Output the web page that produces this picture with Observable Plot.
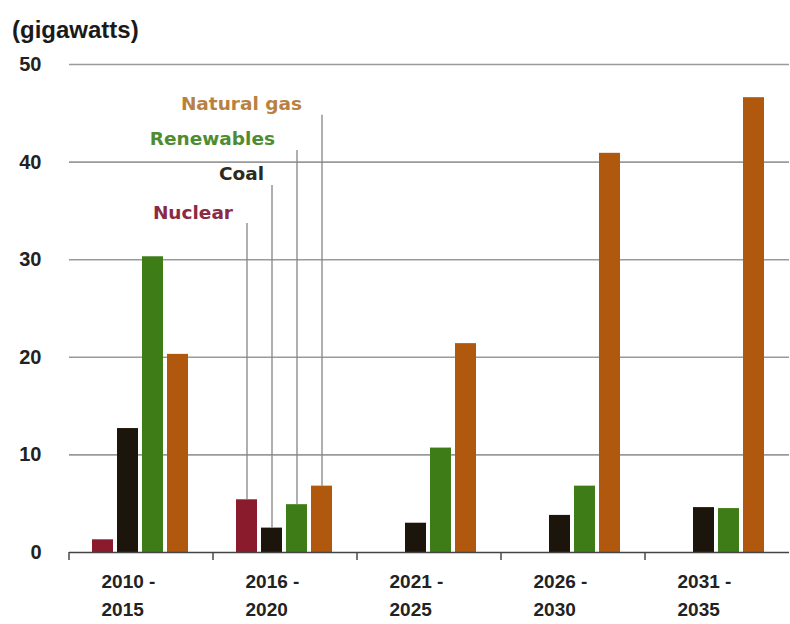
<!DOCTYPE html>
<html><head><meta charset="utf-8">
<script src="https://cdn.jsdelivr.net/npm/d3@7"></script>
<script src="https://cdn.jsdelivr.net/npm/@observablehq/plot@0.6"></script>
<style>
body{margin:0;background:#fff;font-family:"Liberation Sans",Arial,sans-serif;}
#unit{height:44px;position:relative;width:790px;}
#unit span{position:absolute;left:12px;top:18px;font-size:24px;font-weight:bold;color:#1a1a1a;line-height:1;}
#chart svg{display:block;overflow:visible;}
</style></head>
<body>
<div id="unit"><span>(gigawatts)</span></div>
<div id="chart"></div>
<script>
// ---- data ----
const periods = ["2010 - 2015", "2016 - 2020", "2021 - 2025", "2026 - 2030", "2031 - 2035"];
const sources = ["Nuclear", "Coal", "Renewables", "Natural gas"];
const nuclear    = [1.3, 5.4, 0, 0, 0];
const coal       = [12.7, 2.5, 3.0, 3.8, 4.6];
const renewables = [30.3, 4.9, 10.7, 6.8, 4.5];
const naturalGas = [20.3, 6.8, 21.4, 40.9, 46.6];
const yTicks = [0, 10, 20, 30, 40, 50];
// legend leader lines (drawn in the 2016-2020 group), top end in gigawatts
const labelPeriod = "2016 - 2020";
const leaderTop = [33.7, 37.6, 41.2, 44.8];

// ---- styles ----
const barColors = ["#8a1b2c", "#1c150b", "#3e7c17", "#b0580e"];
const labelColors = ["#8c2a45", "#2a2a1e", "#4e8c32", "#b9813f"];
const labelDx = [-15, -9, -23, -21];

const seriesValues = [nuclear, coal, renewables, naturalGas];
const rows = [];
periods.forEach((p, i) => sources.forEach((s, j) => rows.push({period: p, source: s, value: seriesValues[j][i]})));
const ann = sources.map((s, j) => ({period: labelPeriod, source: s, value: seriesValues[j][periods.indexOf(labelPeriod)], top: leaderTop[j]}));

function edgeTicks(index, scales, values, dimensions) {
  const x0 = d3.min(scales.x.range());
  const y0 = scales.y(0);
  const g = d3.create("svg:g");
  g.append("line").attr("x1", x0).attr("x2", x0).attr("y1", y0).attr("y2", y0 + 8)
    .attr("stroke", "#4a4a4a").attr("stroke-width", 1.5);
  return g.node();
}

const chart = Plot.plot({
  width: 790,
  height: 580,
  marginLeft: 68,
  marginRight: 0,
  marginTop: 20,
  marginBottom: 72,
  style: {fontFamily: "'Liberation Sans', Arial, sans-serif", color: "#222"},
  fx: {domain: periods, padding: 0, label: null},
  x: {domain: sources, paddingInner: 0.15, paddingOuter: 0.9, axis: null},
  y: {domain: [0, 50], axis: null},
  color: {domain: sources, range: barColors},
  marks: [
    Plot.gridY(yTicks.slice(1), {stroke: "#9a9a9a", strokeOpacity: 1, strokeWidth: 1.6}),
    Plot.barY(rows, {fx: "period", x: "source", y: "value", fill: "source", dx: -1}),
    Plot.ruleX(ann, {fx: "period", x: "source", y1: "value", y2: "top", stroke: "#858585", strokeWidth: 1.3, dx: -1}),
    ...sources.map((s, j) => Plot.text([ann[j]], {
      fx: "period", x: "source", y: "top", text: "source",
      textAnchor: "end", dx: labelDx[j], dy: -11,
      fill: labelColors[j], fontSize: 18.5, fontWeight: "bold", fontFamily: "'DejaVu Sans', sans-serif"
    })),
    Plot.ruleY([0], {stroke: "#444", strokeWidth: 1.6}),
    edgeTicks,
    Plot.axisY(yTicks, {anchor: "left", tickSize: 0, tickPadding: 28, fontSize: 20, fontWeight: "bold", label: null}),
    Plot.axisFx({anchor: "bottom", tickFormat: d => d.replace(" - ", " -\n"), textAnchor: "start", dx: -40,
      tickSize: 0, tickPadding: 16, fontSize: 19, fontWeight: "bold", lineHeight: 1.47, label: null})
  ]
});
document.getElementById("chart").appendChild(chart);
</script>
</body></html>
